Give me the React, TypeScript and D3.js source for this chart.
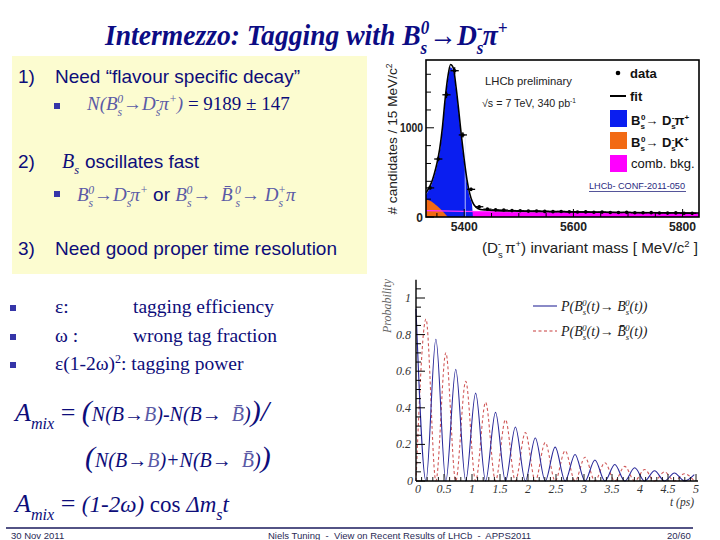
import * as d3 from 'd3'

// ---- mass fit panel (LHCb Bs -> Ds pi) ----
const binMass = [5337.5, 5352.5, 5367.5, 5382.5, 5397.5, 5412.5, 5427.5, 5442.5, 5457.5, 5472.5, 5487.5,
  5502.5, 5517.5, 5532.5, 5547.5, 5562.5, 5577.5, 5592.5, 5607.5, 5622.5, 5637.5, 5652.5, 5667.5,
  5682.5, 5697.5, 5712.5, 5727.5, 5742.5, 5757.5, 5772.5, 5787.5, 5802.5, 5817.5]
const binCounts = [326, 650, 1370, 1640, 920, 310, 115, 88, 80, 78, 72, 70, 66, 68, 63, 60, 62, 58, 56,
  57, 53, 55, 51, 50, 52, 48, 47, 49, 45, 44, 46, 42, 41]
const binErr = [18, 25, 37, 40, 30, 18, 11, 9, 9, 9, 8, 8, 8, 8, 8, 8, 8, 8, 7, 8, 7, 7, 7, 7, 7, 7, 7, 7, 7, 7, 7, 6, 6]

const fitMass = [5330, 5335, 5340, 5345, 5350, 5355, 5360, 5365, 5370, 5375, 5380, 5385, 5390, 5395,
  5400, 5405, 5410, 5415, 5420, 5425, 5430, 5440, 5460, 5500, 5600, 5700, 5830]
const fitTotal = [270, 320, 385, 480, 600, 760, 1000, 1320, 1570, 1710, 1670, 1460, 1190, 900,
  640, 420, 265, 170, 120, 95, 85, 78, 72, 66, 58, 51, 44]

const sigMass = [5330, 5335, 5340, 5345, 5350, 5355, 5360, 5365, 5370, 5375, 5380, 5385, 5390, 5395,
  5400, 5405, 5410, 5414, 5416]
const sigTop = [250, 300, 360, 455, 570, 720, 960, 1280, 1530, 1680, 1640, 1430, 1160, 870,
  600, 380, 225, 150, 0]

const dskMass = [5330, 5335, 5340, 5345, 5350, 5355, 5360, 5365, 5370]
const dskTop = [195, 188, 175, 152, 125, 98, 68, 35, 0]

const bkgMass = [5330, 5400, 5450, 5500, 5600, 5700, 5830]
const bkgTop = [72, 64, 60, 57, 52, 47, 41]

// ---- oscillation panel, peaks and zeros ----
const bluePeakT = [0, 0.355, 0.71, 1.065, 1.42, 1.775, 2.13, 2.485, 2.84, 3.195, 3.55, 3.905, 4.26, 4.615, 4.97]
const bluePeakP = [0.94, 0.775, 0.61, 0.48, 0.375, 0.295, 0.235, 0.185, 0.145, 0.115, 0.09, 0.072, 0.056, 0.044, 0.035]
const redPeakT = [0.178, 0.533, 0.888, 1.243, 1.598, 1.953, 2.308, 2.663, 3.018, 3.373, 3.728, 4.083, 4.438, 4.793]
const redPeakP = [0.885, 0.70, 0.545, 0.43, 0.335, 0.265, 0.21, 0.165, 0.13, 0.10, 0.08, 0.063, 0.05, 0.04]
const probTicks = ['0.2', '0.4', '0.6', '0.8', '1']
const timeTicks = ['0.5', '1', '1.5', '2', '2.5', '3', '3.5', '4', '4.5', '5']

const NAVY = '#0d0d7a'
const LIGHT = '#5a5aa6'
const SERIF = '"Liberation Serif", "Times New Roman", serif'
const SANS = '"Liberation Sans", Arial, sans-serif'

type Seg = { t: string; k?: 'sub' | 'sup'; dx?: number; fill?: string; it?: boolean; fam?: string; size?: number; w?: string }

function Rich({ x, y, size, segs, fill = NAVY, fam = SERIF, it = false, w = 'normal', anchor = 'start', len }: any) {
  let shift = 0
  return (
    <text x={x} y={y} fontSize={size} fill={fill} fontFamily={fam} fontStyle={it ? 'italic' : 'normal'}
      fontWeight={w} textAnchor={anchor} style={{ whiteSpace: 'pre' }}
      textLength={len} lengthAdjust={len ? 'spacingAndGlyphs' : undefined}>
      {(segs as Seg[]).map((s, i) => {
        const base = s.size ?? size
        const target = s.k === 'sub' ? size * 0.3 : s.k === 'sup' ? -size * 0.38 : 0
        const dy = target - shift
        shift = target
        return (
          <tspan key={i} dy={dy || undefined} dx={s.dx} fontSize={s.k ? size * 0.62 : base}
            fill={s.fill} fontStyle={s.it === undefined ? undefined : s.it ? 'italic' : 'normal'}
            fontFamily={s.fam} fontWeight={s.w}>{s.t}</tspan>
        )
      })}
    </text>
  )
}

function MassPanel() {
  const x = d3.scaleLinear().domain([5330, 5830]).range([426, 699])
  const y = d3.scaleLinear().domain([0, 1760]).range([217, 60])
  const area = (ms: number[], vs: number[]) =>
    d3.area<number>().x((_, i) => x(ms[i])).y0(y(0)).y1(d => y(d)).curve(d3.curveMonotoneX)(vs) || ''
  const line = (ms: number[], vs: number[]) =>
    d3.line<number>().x((_, i) => x(ms[i])).y(d => y(d)).curve(d3.curveMonotoneX)(vs) || ''
  const hw = x(5337.5) - x(5330)
  return (
    <g>
      <defs>
        <clipPath id="massclip"><rect x={426} y={60} width={273} height={157} /></clipPath>
      </defs>
      <g clipPath="url(#massclip)">
        <path d={area(bkgMass, bkgTop)} fill="#ff00ff" />
        <path d={area(sigMass, sigTop)} fill="#0a1ef0" />
        <path d={area(dskMass, dskTop)} fill="#f26a14" />
        <path d={line(bkgMass, bkgTop)} fill="none" stroke="#ff33ff" strokeWidth={1.2} />
        <line x1={x(5400) + 1} x2={x(5400) + 1} y1={y(900)} y2={y(0)} stroke="#dfe6ff" strokeWidth={0.8} />
        <path d={line(fitMass, fitTotal)} fill="none" stroke="#000" strokeWidth={1.6} />
        {binMass.map((m, i) => (
          <g key={i} stroke="#000" strokeWidth={1.3}>
            <line x1={x(m) - hw} x2={x(m) + hw} y1={y(binCounts[i])} y2={y(binCounts[i])} />
            <line x1={x(m)} x2={x(m)} y1={y(binCounts[i] - binErr[i])} y2={y(binCounts[i] + binErr[i])} />
            <circle cx={x(m)} cy={y(binCounts[i])} r={1.8} fill="#000" stroke="none" />
          </g>
        ))}
      </g>
      {d3.range(0, 1760, 200).map(v => (
        <line key={v} x1={426} x2={v === 1000 || v === 0 ? 434 : 431} y1={y(v)} y2={y(v)} stroke="#000" strokeWidth={1} />
      ))}
      {d3.range(5350, 5830, 50).map(v => (
        <line key={v} x1={x(v)} x2={x(v)} y1={217} y2={v % 200 === 0 ? 209 : 213} stroke="#000" strokeWidth={1} />
      ))}
      <rect x={426} y={60} width={273} height={157} fill="none" stroke="#000" strokeWidth={1.6} />
      <g fontFamily={SANS} fontWeight="bold" fontSize={12} fill="#222">
        <text x={423} y={132} textAnchor="end" textLength={23} lengthAdjust="spacingAndGlyphs">1000</text>
        <text x={423} y={222} textAnchor="end">0</text>
        {[5400, 5600, 5800].map(v => (
          <text key={v} x={x(v)} y={231} textAnchor="middle" textLength={27} lengthAdjust="spacingAndGlyphs">{v}</text>
        ))}
      </g>
      <g transform="translate(397,139) rotate(-90)">
        <Rich x={0} y={0} size={13.5} fam={SANS} fill="#222" anchor="middle" len={151}
          segs={[{ t: '# candidates / 15 MeV/c' }, { t: '2', k: 'sup' }]} />
      </g>
      <Rich x={482} y={253} size={15} fam={SANS} fill="#222" len={216}
        segs={[{ t: '(D' }, { t: 's', k: 'sub' }, { t: '-', k: 'sup', dx: -5 }, { t: ' π' }, { t: '+', k: 'sup' },
          { t: ') invariant mass [ MeV/c' }, { t: '2', k: 'sup' }, { t: ' ]' }]} />
      <text x={485} y={85} fontFamily={SANS} fontSize={10.5} fill="#222" textLength={87} lengthAdjust="spacingAndGlyphs">LHCb preliminary</text>
      <Rich x={482} y={107} size={10.5} fam={SANS} fill="#222" len={94}
        segs={[{ t: '√s = 7 TeV, 340 pb' }, { t: '-1', k: 'sup' }]} />
      <circle cx={618} cy={73} r={2.3} fill="#000" />
      <text x={630} y={78} fontFamily={SANS} fontWeight="bold" fontSize={13} fill="#111">data</text>
      <line x1={610} x2={626} y1={96} y2={96} stroke="#000" strokeWidth={2} />
      <text x={630} y={101} fontFamily={SANS} fontWeight="bold" fontSize={13} fill="#111">fit</text>
      <rect x={610} y={110} width={17} height={17} fill="#0a1ef0" />
      <rect x={610} y={132} width={17} height={17} fill="#f26a14" />
      <rect x={610} y={155} width={17} height={17} fill="#ff00ff" />
      <Rich x={631} y={125} size={13} fam={SANS} w="bold" fill="#111"
        segs={[{ t: 'B' }, { t: 's', k: 'sub' }, { t: '0', k: 'sup', dx: -4 }, { t: '→ D' }, { t: 's', k: 'sub' }, { t: '-', k: 'sup', dx: -4 }, { t: 'π' }, { t: '+', k: 'sup' }]} />
      <Rich x={631} y={147} size={13} fam={SANS} w="bold" fill="#111"
        segs={[{ t: 'B' }, { t: 's', k: 'sub' }, { t: '0', k: 'sup', dx: -4 }, { t: '→ D' }, { t: 's', k: 'sub' }, { t: '-', k: 'sup', dx: -4 }, { t: 'K' }, { t: '+', k: 'sup' }]} />
      <text x={631} y={168} fontFamily={SANS} fontSize={13} fill="#111">comb. bkg.</text>
      <text x={589} y={189} fontFamily={SANS} fontSize={9} fill="#2a2a80" textLength={96} lengthAdjust="spacingAndGlyphs">LHCb- CONF-2011-050</text>
      <line x1={589} x2={686} y1={191.5} y2={191.5} stroke="#2a2a80" strokeWidth={0.8} />
    </g>
  )
}

function OscPanel() {
  const x = d3.scaleLinear().domain([0, 5]).range([416, 696])
  const y = d3.scaleLinear().domain([0, 1]).range([481, 298])
  const bluePts: [number, number][] = []
  bluePeakT.forEach((t, i) => {
    bluePts.push([t, bluePeakP[i]])
    if (i < redPeakT.length) bluePts.push([redPeakT[i], 0])
  })
  const redPts: [number, number][] = []
  bluePeakT.forEach((t, i) => {
    redPts.push([t, 0])
    if (i < redPeakT.length) redPts.push([redPeakT[i], redPeakP[i]])
  })
  const line = d3.line<[number, number]>().x(d => x(d[0])).y(d => y(d[1])).curve(d3.curveMonotoneX)
  return (
    <g>
      <path d={line(redPts) || ''} fill="none" stroke="#c83c3c" strokeWidth={1.1} strokeDasharray="3,2.5" opacity={0.85} />
      <path d={line(bluePts) || ''} fill="none" stroke="#2a2a9a" strokeWidth={1.1} />
      <line x1={416} x2={416} y1={y(0)} y2={y(1.1)} stroke="#000" strokeWidth={1.4} />
      <line x1={416} x2={698} y1={y(0)} y2={y(0)} stroke="#000" strokeWidth={1.4} />
      {d3.range(0, 22).map(i => (
        <line key={i} x1={416} x2={i % 4 === 0 ? 425 : 421} y1={y(i * 0.05)} y2={y(i * 0.05)} stroke="#000" strokeWidth={1} />
      ))}
      {d3.range(1, 51).map(i => (
        <line key={i} x1={x(i * 0.1)} x2={x(i * 0.1)} y1={y(0)} y2={y(0) - (i % 5 === 0 ? 7 : 4)} stroke="#000" strokeWidth={0.9} />
      ))}
      <g fontFamily={SERIF} fontStyle="italic" fontSize={12} fill="#333">
        {probTicks.map(t => (
          <text key={t} x={411} y={y(+t) + 4} textAnchor="end">{t}</text>
        ))}
        <text x={413} y={485} textAnchor="end">0</text>
        <text x={418} y={493} textAnchor="middle">0</text>
        {timeTicks.map(t => (
          <text key={t} x={x(+t)} y={493} textAnchor="middle">{t}</text>
        ))}
        <text x={682} y={506} textAnchor="middle" fontSize={11.5}>t (ps)</text>
        <text transform="translate(391,306) rotate(-90)" textAnchor="middle" fill="#666" fontSize={12}>Probability</text>
      </g>
      <line x1={533} x2={557} y1={306} y2={306} stroke="#2a2a9a" strokeWidth={1.1} />
      <line x1={533} x2={557} y1={331} y2={331} stroke="#c83c3c" strokeWidth={1.1} strokeDasharray="3,2.5" />
      <Rich x={561} y={311} size={14} it fill="#222"
        segs={[{ t: 'P(B' }, { t: 's', k: 'sub' }, { t: '0', k: 'sup', dx: -4 }, { t: '(t)→ B' }, { t: 's', k: 'sub' }, { t: '0', k: 'sup', dx: -4 }, { t: '(t))' }]} />
      <Rich x={561} y={336} size={14} it fill="#222"
        segs={[{ t: 'P(B' }, { t: 's', k: 'sub' }, { t: '0', k: 'sup', dx: -4 }, { t: '(t)→ B̄' }, { t: 's', k: 'sub' }, { t: '0', k: 'sup', dx: -4 }, { t: '(t))' }]} />
    </g>
  )
}

function Slide() {
  const lt = { fill: LIGHT, it: true }
  return (
    <g>
      <g transform="translate(105,45) scale(0.92,1)">
        <Rich x={0} y={0} size={30} w="bold" it fill="#0c0c84"
          segs={[{ t: 'Intermezzo: Tagging with B' }, { t: 's', k: 'sub' }, { t: '0', k: 'sup', dx: -7 },
            { t: '→D' }, { t: 's', k: 'sub' }, { t: '-', k: 'sup', dx: -7 }, { t: 'π' }, { t: '+', k: 'sup' }]} />
      </g>
      <rect x={12} y={56} width={355} height={218} fill="#fcfcd0" />
      <g fontFamily={SANS} fontSize={19} fill={NAVY}>
        <text x={18} y={83}>1)</text>
        <text x={55} y={83}>Need “flavour specific decay”</text>
        <text x={18} y={168}>2)</text>
        <text x={85} y={168}>oscillates fast</text>
        <text x={18} y={255}>3)</text>
        <text x={55} y={255}>Need good proper time resolution</text>
      </g>
      <Rich x={62} y={168} size={20} it fill={NAVY} segs={[{ t: 'B' }, { t: 's', k: 'sub' }]} />
      <rect x={54} y={103} width={6} height={6} fill="#3535a8" />
      <Rich x={87} y={110} size={19} fill={NAVY}
        segs={[{ t: 'N(B', ...lt }, { t: 's', k: 'sub', ...lt }, { t: '0', k: 'sup', dx: -5, ...lt }, { t: '→D', ...lt },
          { t: 's', k: 'sub', ...lt }, { t: '-', k: 'sup', dx: -5, ...lt }, { t: 'π', ...lt }, { t: '+', k: 'sup', ...lt },
          { t: ')', ...lt }, { t: ' = 9189 ± 147' }]} />
      <rect x={54} y={191} width={6} height={6} fill="#3535a8" />
      <Rich x={77} y={201} size={19} fill={LIGHT} it
        segs={[{ t: 'B' }, { t: 's', k: 'sub' }, { t: '0', k: 'sup', dx: -5 }, { t: '→D' }, { t: 's', k: 'sub' },
          { t: '-', k: 'sup', dx: -5 }, { t: 'π' }, { t: '+', k: 'sup' },
          { t: ' or ', it: false, fam: SANS, fill: NAVY }, { t: 'B' }, { t: 's', k: 'sub' }, { t: '0', k: 'sup', dx: -5 },
          { t: '→  B̄' }, { t: ' s', k: 'sub' }, { t: '0', k: 'sup', dx: -5 }, { t: '→ D' }, { t: 's', k: 'sub' },
          { t: '+', k: 'sup', dx: -5 }, { t: 'π' }]} />
      {[313, 342, 370].map(v => <rect key={v} x={10} y={v - 8} width={6} height={6} fill="#3535a8" />)}
      <g fontFamily={SERIF} fontSize={19.5} fill={NAVY}>
        <text x={55} y={313}>ε:</text>
        <text x={133} y={313}>tagging efficiency</text>
        <text x={55} y={342}>ω :</text>
        <text x={133} y={342}>wrong tag fraction</text>
      </g>
      <Rich x={55} y={370} size={19.5} segs={[{ t: 'ε(1-2ω)' }, { t: '2', k: 'sup' }, { t: ': tagging power' }]} />
      <Rich x={15} y={421} size={26} it
        segs={[{ t: 'A' }, { t: 'mix', k: 'sub' }, { t: ' = ', it: false }, { t: '(', size: 30 }, { t: 'N(B→', size: 20 },
          { t: 'B', size: 20, fill: LIGHT }, { t: ')-N(B→  ', size: 20 }, { t: 'B̄', size: 20, fill: LIGHT },
          { t: ')', size: 20 }, { t: ')/', size: 30 }]} />
      <Rich x={85} y={467} size={26} it
        segs={[{ t: '(', size: 30 }, { t: 'N(B→', size: 20 }, { t: 'B', size: 20, fill: LIGHT },
          { t: ')+N(B→  ', size: 20 }, { t: 'B̄', size: 20, fill: LIGHT }, { t: ')', size: 20 }, { t: ')', size: 30 }]} />
      <Rich x={15} y={512} size={26} it
        segs={[{ t: 'A' }, { t: 'mix', k: 'sub' }, { t: ' = ', it: false }, { t: '(1-2ω) ', size: 23 },
          { t: 'cos ', it: false, size: 23 }, { t: 'Δm', size: 23 }, { t: 's', k: 'sub' }, { t: 't', size: 23 }]} />
      <line x1={6} x2={693} y1={528} y2={528} stroke="#1a1a5c" strokeWidth={1.6} />
      <g fontFamily={SANS} fontSize={9.5} fill="#2a2a55">
        <text x={11} y={539}>30 Nov 2011</text>
        <text x={268} y={539} style={{ whiteSpace: 'pre' }}>Niels Tuning  -  View on Recent Results of LHCb  -  APPS2011</text>
        <text x={667} y={539}>20/60</text>
      </g>
    </g>
  )
}

export default function App() {
  return (
    <svg width={720} height={540} style={{ position: 'absolute', left: 0, top: 0, background: '#fff' }}>
      <rect width={720} height={540} fill="#fff" />
      <Slide />
      <MassPanel />
      <OscPanel />
    </svg>
  )
}
